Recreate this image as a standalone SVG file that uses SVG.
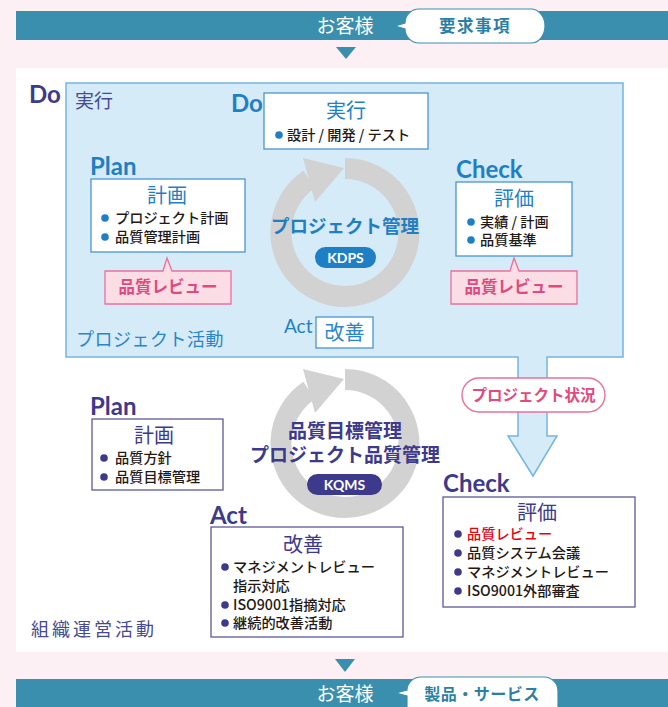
<svg xmlns="http://www.w3.org/2000/svg" xmlns:xlink="http://www.w3.org/1999/xlink" width="668" height="707" viewBox="0 0 668 707">
<style>
.jp{font-family:"Noto Sans CJK JP","Noto Sans",sans-serif}
.lat{font-family:Lato,"Liberation Sans",sans-serif}
.hb{font-family:Lato,"Liberation Sans",sans-serif;font-weight:bold;font-size:24px}
.blue{fill:#1f7fc4}
.pur{fill:#3d3a8c}
.body{font-family:"Noto Sans CJK JP",sans-serif;font-size:14.2px;font-weight:500;fill:#231815}
.red{fill:#e60012}
.ttl{font-family:"Noto Sans CJK JP",sans-serif;font-size:20px;text-anchor:middle}
.bbox{fill:#fff;stroke:#4a96d2;stroke-width:1.3}
.pbox{fill:#fff;stroke:#5d5a9c;stroke-width:1.3}
.bdot{fill:#1f7fc4}
.pdot{fill:#3d3a8c}
.callout{fill:#fbdde6;stroke:#e9719a;stroke-width:1.3}
.ctext{font-family:"Noto Sans CJK JP",sans-serif;font-weight:bold;font-size:16.5px;fill:#e04a80;text-anchor:middle}
.ring{fill:none;stroke:#d2d2d2;stroke-width:21}
.bar{fill:#3a8fae}
.spk{fill:#fff;stroke:#3a8fae;stroke-width:1.2}
</style>
<defs>
<g id="cycle">
<path class="ring" d="M345,168.5 A64,64 0 1 1 309.2,179.4"/>
<polygon points="303,158 344,168 315,202" fill="#d2d2d2"/>
</g>
</defs>
<rect x="0" y="0" width="668" height="707" fill="#fcf0f4"/>
<rect x="16" y="68" width="652" height="584" fill="#fff"/>

<g id="top-customer">
<rect class="bar" x="16" y="11" width="652" height="29"/>
<text class="jp" x="345" y="33" font-size="19" fill="#fff" text-anchor="middle">お客様</text>
<path class="spk" d="M419,9 H531 A14,17 0 0 1 531,43 H419 A14,14 0 0 1 405,29 L395,26 L405,23 A14,14 0 0 1 419,9 Z"/>
<text class="jp" x="475" y="32" font-size="16.5" font-weight="bold" fill="#2b7fa3" text-anchor="middle" letter-spacing="1.5">要求事項</text>
<polygon points="336,47 356,47 346,59" fill="#3a8fae"/>
</g>

<g id="project-panel">
<path d="M66,83 H623 V357 H547 V436 H557 L533,476 L508,436 H518 V357 H66 Z" fill="#d5ebf8" stroke="#75b5e0" stroke-width="1.5"/>
<text class="jp" x="75" y="108" font-size="19" fill="#464a8e">実行</text>
<text class="jp" x="76" y="346" font-size="18" fill="#2a86c8" letter-spacing="0.5">プロジェクト活動</text>
</g>

<text id="do-outer" class="hb pur" x="29" y="103">Do</text>

<g id="connectors">
<use xlink:href="#cycle"/>
<use xlink:href="#cycle" transform="translate(0,211)"/>
</g>

<g id="project-cycle">
<text class="jp blue" x="345" y="233" font-size="18.5" font-weight="bold" text-anchor="middle">プロジェクト管理</text>
<rect x="315" y="247" width="61" height="21" rx="10.5" fill="#1f7fc4"/>
<text class="lat" x="345.5" y="263" font-size="14" font-weight="bold" fill="#fff" text-anchor="middle">KDPS</text>
</g>

<g id="p-do">
<text class="hb blue" x="231" y="112">Do</text>
<rect class="bbox" x="264" y="93" width="164" height="56"/>
<text class="ttl blue" x="346" y="118">実行</text>
<circle class="bdot" cx="279" cy="135" r="3.8"/>
<text class="body" x="287" y="140">設計 / 開発 / テスト</text>
</g>

<g id="p-plan">
<text class="hb blue" x="90" y="175">Plan</text>
<rect class="bbox" x="91" y="179" width="154" height="73"/>
<text class="ttl blue" x="167" y="203">計画</text>
<circle class="bdot" cx="105" cy="218" r="3.8"/>
<text class="body" x="115" y="223">プロジェクト計画</text>
<circle class="bdot" cx="105" cy="237" r="3.8"/>
<text class="body" x="115" y="242">品質管理計画</text>
</g>

<g id="p-plan-review">
<path class="callout" d="M105,271 H163 L167,258 L172,271 H231 V304 H105 Z"/>
<text class="ctext" x="168" y="293">品質レビュー</text>
</g>

<g id="p-check">
<text class="hb blue" x="456" y="178">Check</text>
<rect class="bbox" x="456" y="182" width="116" height="74"/>
<text class="ttl blue" x="514" y="206">評価</text>
<circle class="bdot" cx="471" cy="222" r="3.8"/>
<text class="body" x="480" y="227">実績 / 計画</text>
<circle class="bdot" cx="471" cy="240" r="3.8"/>
<text class="body" x="480" y="245">品質基準</text>
</g>

<g id="p-check-review">
<path class="callout" d="M451,271 H510 L514,258 L519,271 H577 V304 H451 Z"/>
<text class="ctext" x="514" y="293">品質レビュー</text>
</g>

<g id="p-act">
<text class="lat blue" x="284" y="333" font-size="19">Act</text>
<rect class="bbox" x="316" y="317" width="57" height="31"/>
<text class="ttl" x="344.5" y="340" fill="#2a86c8" font-size="19">改善</text>
</g>

<g id="project-status">
<rect x="462" y="378" width="143" height="34" rx="17" fill="#fff" stroke="#e9719a" stroke-width="1.4"/>
<text class="jp" x="533.5" y="401" font-size="15.5" font-weight="bold" fill="#e04a80" text-anchor="middle">プロジェクト状況</text>
</g>

<g id="org-cycle">
<text class="jp pur" x="345" y="438" font-size="19" font-weight="bold" text-anchor="middle">品質目標管理</text>
<text class="jp pur" x="345" y="462" font-size="19" font-weight="bold" text-anchor="middle">プロジェクト品質管理</text>
<rect x="307" y="474" width="75" height="21" rx="10.5" fill="#3d3a8c"/>
<text class="lat" x="344.5" y="490" font-size="14" font-weight="bold" fill="#fff" text-anchor="middle">KQMS</text>
</g>

<g id="o-plan">
<text class="hb pur" x="90" y="415">Plan</text>
<rect class="pbox" x="92" y="419" width="131" height="71"/>
<text class="ttl pur" x="154" y="443">計画</text>
<circle class="pdot" cx="104" cy="458" r="3.8"/>
<text class="body" x="115" y="463">品質方針</text>
<circle class="pdot" cx="104" cy="477" r="3.8"/>
<text class="body" x="115" y="482">品質目標管理</text>
</g>

<g id="o-act">
<text class="hb pur" x="210" y="524">Act</text>
<rect class="pbox" x="211" y="527" width="192" height="110"/>
<text class="ttl pur" x="303" y="552">改善</text>
<circle class="pdot" cx="225" cy="567" r="3.8"/>
<text class="body" x="233" y="572">マネジメントレビュー</text>
<text class="body" x="233" y="591">指示対応</text>
<circle class="pdot" cx="225" cy="605" r="3.8"/>
<text class="body" x="233" y="610">ISO9001指摘対応</text>
<circle class="pdot" cx="225" cy="623" r="3.8"/>
<text class="body" x="233" y="628">継続的改善活動</text>
</g>

<g id="o-check">
<text class="hb pur" x="443" y="492">Check</text>
<rect class="pbox" x="443" y="497" width="192" height="110"/>
<text class="ttl pur" x="537" y="520">評価</text>
<circle class="pdot" cx="458" cy="534" r="3.8"/>
<text class="body red" x="467" y="539">品質レビュー</text>
<circle class="pdot" cx="458" cy="553" r="3.8"/>
<text class="body" x="467" y="558">品質システム会議</text>
<circle class="pdot" cx="458" cy="572" r="3.8"/>
<text class="body" x="467" y="577">マネジメントレビュー</text>
<circle class="pdot" cx="458" cy="591" r="3.8"/>
<text class="body" x="467" y="596">ISO9001外部審査</text>
</g>

<text id="org-label" class="jp" x="31" y="636" font-size="18" fill="#464a8e" letter-spacing="3">組織運営活動</text>

<g id="bottom-customer">
<polygon points="335,659 355,659 345,672" fill="#3a8fae"/>
<rect class="bar" x="16" y="679" width="652" height="28"/>
<text class="jp" x="345" y="701" font-size="19" fill="#fff" text-anchor="middle">お客様</text>
<path class="spk" d="M421,677 H544 A14,14 0 0 1 558,691 V720 H407 V696 L396,693 L407,690 A14,13 0 0 1 421,677 Z"/>
<text class="jp" x="482" y="700" font-size="16" font-weight="bold" fill="#2b7fa3" text-anchor="middle" letter-spacing="0.5">製品・サービス</text>
</g>
</svg>
